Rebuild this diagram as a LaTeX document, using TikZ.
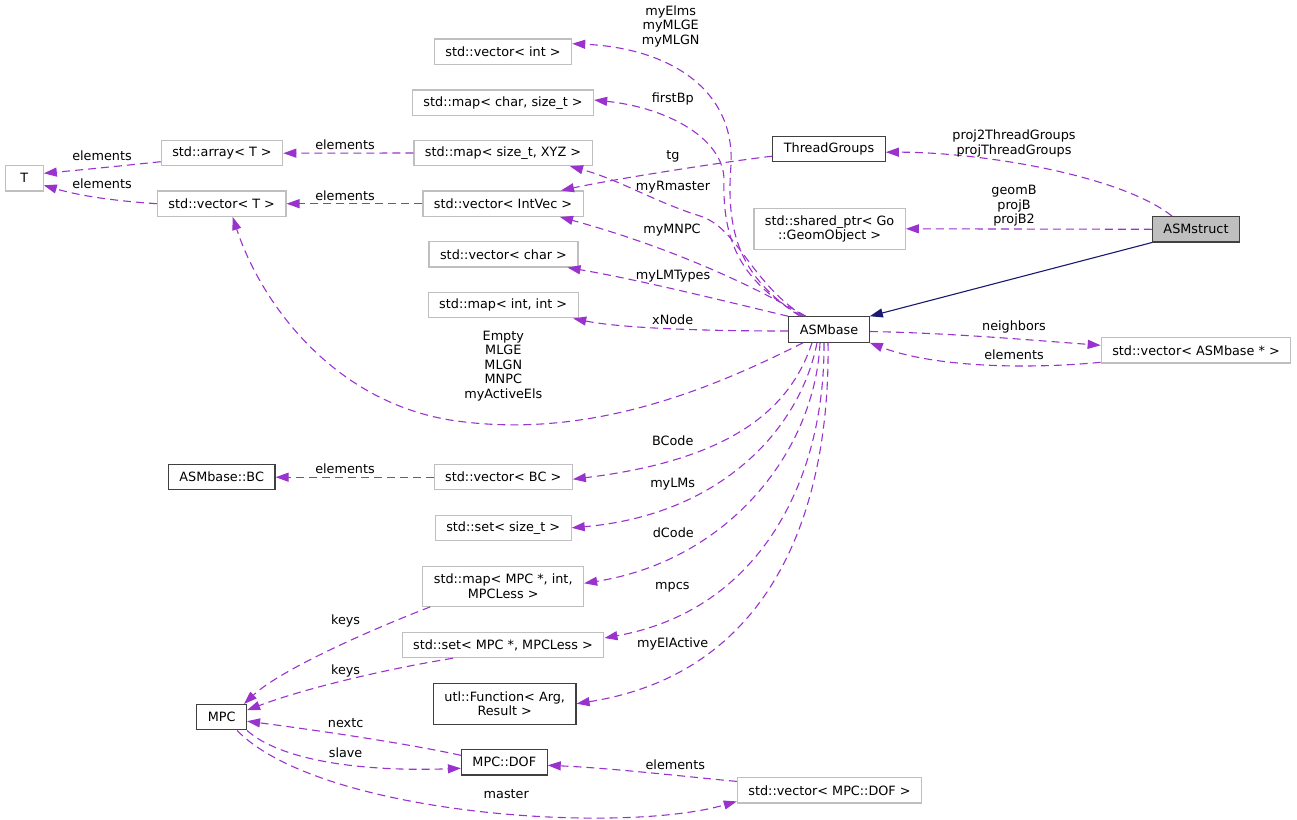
\documentclass[tikz,border=0pt]{standalone}
\usepackage{fontspec}
\setmainfont{DejaVu Sans}
\usetikzlibrary{arrows.meta}
\definecolor{edgec}{HTML}{9A32CD}
\definecolor{graybd}{HTML}{BFBFBF}
\definecolor{darkbd}{HTML}{404040}
\definecolor{rootfill}{HTML}{BFBFBF}
\definecolor{inhc}{HTML}{191970}
\tikzset{
  nbase/.style={font=\fontsize{12.8}{14.6}\selectfont, align=center, inner xsep=11pt, inner ysep=3pt, minimum height=25.3pt, line width=1.2pt},
  nodeext/.style={nbase, draw=graybd},
  nodedoc/.style={nbase, draw=darkbd},
  noderoot/.style={nbase, draw=darkbd, fill=rootfill},
  lbl/.style={font=\fontsize{12.8}{14.6}\selectfont, align=center, inner sep=0pt},
  uedge/.style={draw=edgec, line width=1.1pt, dash pattern=on 8pt off 5pt, -{Triangle[length=13pt,width=9pt]}},
  inhedge/.style={draw=inhc, line width=1.1pt, -{Triangle[length=13pt,width=9pt]}}
}
\begin{document}
\begin{tikzpicture}[x=1pt,y=-1pt]
\useasboundingbox (0,0) rectangle (1297,819);
% nodes
\node[nodeext] (vint) at (503,51.7) {std::vector< int >};
\node[nodeext] (mapchar) at (503,102.7) {std::map< char, size\_t >};
\node[nodeext] (mapxyz) at (503,153) {std::map< size\_t, XYZ >};
\node[nodeext] (vintvec) at (503,203.7) {std::vector< IntVec >};
\node[nodeext] (vchar) at (503.5,254.3) {std::vector< char >};
\node[nodeext] (mapint) at (503.2,305.2) {std::map< int, int >};
\node[nodeext, minimum width=38pt] (T) at (24.2,178.3) {T};
\node[nodeext] (arrT) at (222,153.2) {std::array< T >};
\node[nodeext] (vT) at (221.7,203.7) {std::vector< T >};
\node[nodedoc] (TG) at (829,149.2) {ThreadGroups};
\node[nodeext, minimum height=41pt] (shared) at (829.6,228.8) {std::shared\_ptr< Go\\::GeomObject >};
\node[noderoot] (ASMstruct) at (1196,229.3) {ASMstruct};
\node[nodedoc] (ASMbase) at (829,329.5) {ASMbase};
\node[nodeext] (vASMp) at (1196,350.3) {std::vector< ASMbase * >};
\node[nodedoc] (BC) at (221.7,477.2) {ASMbase::BC};
\node[nodeext] (vBC) at (503.2,477.2) {std::vector< BC >};
\node[nodeext] (setsz) at (503.2,527.8) {std::set< size\_t >};
\node[nodeext, minimum height=40pt] (mapMPC) at (503.2,586.3) {std::map< MPC *, int,\\MPCLess >};
\node[nodeext] (setMPC) at (503,645) {std::set< MPC *, MPCLess >};
\node[nodedoc] (MPC) at (221.6,717.2) {MPC};
\node[nodedoc, minimum height=41pt] (func) at (504.7,703.7) {utl::Function< Arg,\\Result >};
\node[nodedoc] (DOF) at (504.3,762.3) {MPC::DOF};
\node[nodeext] (vDOF) at (829.5,790.4) {std::vector< MPC::DOF >};
% edges
\draw[inhedge] (ASMstruct.south west) -- (ASMbase.north east);
\draw[uedge] ([xshift=-24pt]ASMstruct.north) .. controls (1120,175) and (980,152) .. ([yshift=-3pt]TG.east);
\draw[uedge] (ASMstruct.west) -- (shared.east);
\draw[uedge] ([yshift=-7pt]TG.west) .. controls (730,161) and (620,178) .. ([xshift=58pt]vintvec.north);
\draw[uedge] ([xshift=-29pt]ASMbase.north) .. controls (745,280) and (725,240) .. (731,165) .. controls (735,90) and (670,48) .. ([yshift=8pt]vint.east);
\draw[uedge] ([xshift=-27pt]ASMbase.north) .. controls (748,285) and (722,250) .. (724,180) .. controls (724,140) and (670,108) .. ([yshift=2.7pt]mapchar.east);
\draw[uedge] ([xshift=-25pt]ASMbase.north) .. controls (750,282) and (738,228) .. (700,216) .. controls (655,202) and (620,180) .. ([xshift=67pt]mapxyz.south);
\draw[uedge] ([xshift=-23pt]ASMbase.north) .. controls (760,290) and (680,250) .. ([xshift=57pt]vintvec.south);
\draw[uedge] (ASMbase.north west) .. controls (720,300) and (640,280) .. ([xshift=64pt]vchar.south);
\draw[uedge] ([yshift=-1.5pt]ASMbase.west) .. controls (700,331) and (620,328) .. ([xshift=70pt]mapint.south);
\draw[uedge] ([xshift=-26pt]ASMbase.south) .. controls (700,395) and (580,440) .. (450,420) .. controls (330,400) and (260,300) .. ([xshift=11pt]vT.south);
\draw[uedge] ([yshift=-2pt]ASMbase.east) .. controls (950,333) and (1030,340) .. ([yshift=5pt]vASMp.west);
\draw[uedge] ([yshift=-12pt]vASMp.west) .. controls (1020,370) and (930,366) .. (ASMbase.south east);
\draw[uedge] ([xshift=-17pt]ASMbase.south) .. controls (790,410) and (730,460) .. ([yshift=-2pt]vBC.east);
\draw[uedge] ([xshift=-12pt]ASMbase.south) .. controls (800,430) and (720,515) .. (setsz.east);
\draw[uedge] ([xshift=-9pt]ASMbase.south) .. controls (815,450) and (730,560) .. ([yshift=3pt]mapMPC.east);
\draw[uedge] ([xshift=-5pt]ASMbase.south) .. controls (825,480) and (760,610) .. ([yshift=7pt]setMPC.east);
\draw[uedge] ([xshift=-1pt]ASMbase.south) .. controls (830,480) and (790,670) .. (func.east);
\draw[uedge] (mapxyz.west) -- (arrT.east);
\draw[uedge] (vintvec.west) -- (vT.east);
\draw[uedge] ([yshift=-8.5pt]arrT.west) .. controls (120,166) and (80,170) .. ([yshift=5pt]T.east);
\draw[uedge] (vT.west) .. controls (100,200) and (70,193) .. ([yshift=-7pt]T.east);
\draw[uedge] (vBC.west) -- (BC.east);
\draw[uedge] ([xshift=-73pt]mapMPC.south) .. controls (370,630) and (280,670) .. ([xshift=-3pt]MPC.north east);
\draw[uedge] ([xshift=-50pt]setMPC.south) .. controls (380,670) and (300,690) .. ([yshift=7pt]MPC.east);
\draw[uedge] ([yshift=7pt]DOF.west) .. controls (400,742) and (300,728) .. ([yshift=-4pt]MPC.east);
\draw[uedge] (MPC.south east) .. controls (280,760) and (360,772) .. ([yshift=-6pt]DOF.west);
\draw[uedge] ([xshift=-10pt]MPC.south east) .. controls (320,815) and (620,835) .. ([yshift=-11pt]vDOF.west);
\draw[uedge] ([yshift=9pt]vDOF.west) .. controls (680,776) and (610,768) .. ([yshift=-3pt]DOF.east);
% labels
\node[lbl] (l1) at (670.7,26.3) {myElms\\myMLGE\\myMLGN};
\node[lbl] (l2) at (672.7,99) {firstBp};
\node[lbl] (l3) at (673,156.7) {tg};
\node[lbl] (l4) at (673,186.7) {myRmaster};
\node[lbl] (l5) at (672,230.5) {myMNPC};
\node[lbl] (l6) at (673,275.7) {myLMTypes};
\node[lbl] (l7) at (672.7,319.7) {xNode};
\node[lbl] (l8) at (503.3,366) {Empty\\MLGE\\MLGN\\MNPC\\myActiveEls};
\node[lbl] (l9) at (1014,143.2) {proj2ThreadGroups\\projThreadGroups};
\node[lbl] (l10) at (1014,206) {geomB\\projB\\projB2};
\node[lbl] (l11) at (1014,327.3) {neighbors};
\node[lbl] (l12) at (1014,354.3) {elements};
\node[lbl] (l13) at (345,145) {elements};
\node[lbl] (l14) at (345,195.7) {elements};
\node[lbl] (l15) at (102,156) {elements};
\node[lbl] (l16) at (102,184) {elements};
\node[lbl] (l17) at (345,468.3) {elements};
\node[lbl] (l18) at (672.7,440.7) {BCode};
\node[lbl] (l19) at (672.7,484) {myLMs};
\node[lbl] (l20) at (673.3,532.7) {dCode};
\node[lbl] (l21) at (672.3,587.3) {mpcs};
\node[lbl] (l22) at (672.7,644.3) {myElActive};
\node[lbl] (l23) at (345.6,620.5) {keys};
\node[lbl] (l24) at (345.6,670.7) {keys};
\node[lbl] (l25) at (345.6,722.7) {nextc};
\node[lbl] (l26) at (345.6,752.3) {slave};
\node[lbl] (l27) at (506.3,794.3) {master};
\node[lbl] (l28) at (675.3,764.3) {elements};
\end{tikzpicture}
\end{document}
